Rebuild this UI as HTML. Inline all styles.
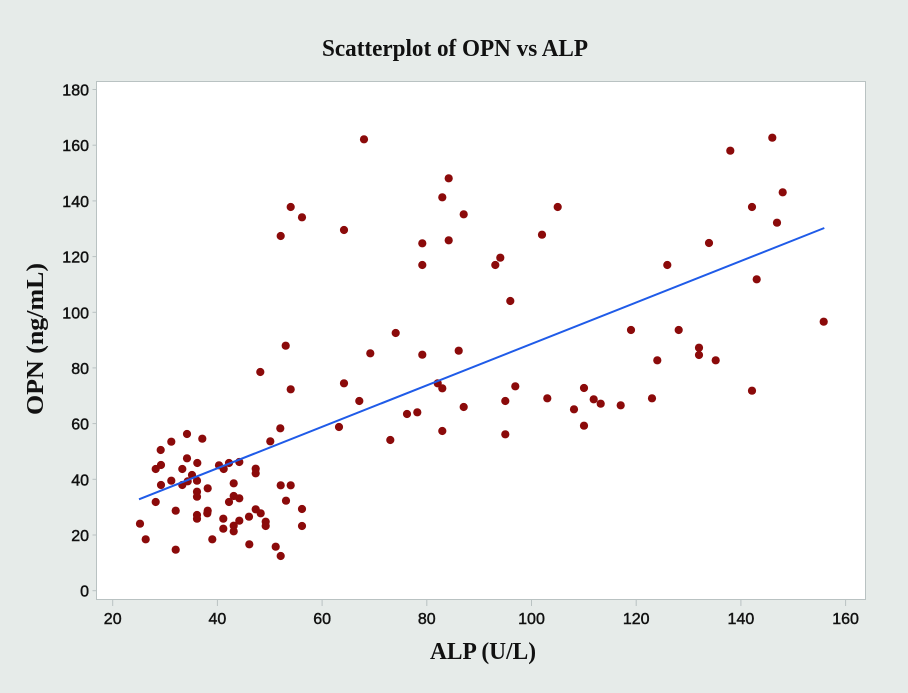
<!DOCTYPE html>
<html>
<head>
<meta charset="utf-8">
<style>
html,body{margin:0;padding:0;background:#e6ebe9;}
svg{display:block;}
</style>
</head>
<body>
<svg width="908" height="693" viewBox="0 0 908 693" xmlns="http://www.w3.org/2000/svg">
<rect x="0" y="0" width="908" height="693" fill="#e6ebe9"/>
<text x="455" y="56" text-anchor="middle" font-family="Liberation Serif, serif" font-weight="bold" font-size="24" textLength="266" lengthAdjust="spacingAndGlyphs" fill="#111">Scatterplot of OPN vs ALP</text>
<rect x="96.5" y="81.5" width="769" height="518" fill="#ffffff" stroke="#b9c2c2" stroke-width="1"/>
<g stroke="#b9c2c2" stroke-width="1">
<line x1="92.5" y1="590.7" x2="96.5" y2="590.7"/>
<line x1="92.5" y1="535.0" x2="96.5" y2="535.0"/>
<line x1="92.5" y1="479.3" x2="96.5" y2="479.3"/>
<line x1="92.5" y1="423.6" x2="96.5" y2="423.6"/>
<line x1="92.5" y1="367.9" x2="96.5" y2="367.9"/>
<line x1="92.5" y1="312.3" x2="96.5" y2="312.3"/>
<line x1="92.5" y1="256.6" x2="96.5" y2="256.6"/>
<line x1="92.5" y1="200.9" x2="96.5" y2="200.9"/>
<line x1="92.5" y1="145.2" x2="96.5" y2="145.2"/>
<line x1="92.5" y1="89.5" x2="96.5" y2="89.5"/>
<line x1="112.7" y1="599.5" x2="112.7" y2="606"/>
<line x1="217.4" y1="599.5" x2="217.4" y2="606"/>
<line x1="322.1" y1="599.5" x2="322.1" y2="606"/>
<line x1="426.8" y1="599.5" x2="426.8" y2="606"/>
<line x1="531.5" y1="599.5" x2="531.5" y2="606"/>
<line x1="636.2" y1="599.5" x2="636.2" y2="606"/>
<line x1="740.9" y1="599.5" x2="740.9" y2="606"/>
<line x1="845.6" y1="599.5" x2="845.6" y2="606"/>
</g>
<g font-family="Liberation Sans, sans-serif" font-size="16" fill="#111" stroke="#111" stroke-width="0.45" text-anchor="end">
<text x="89" y="596.7">0</text>
<text x="89" y="541.0">20</text>
<text x="89" y="485.3">40</text>
<text x="89" y="429.6">60</text>
<text x="89" y="373.9">80</text>
<text x="89" y="318.3">100</text>
<text x="89" y="262.6">120</text>
<text x="89" y="206.9">140</text>
<text x="89" y="151.2">160</text>
<text x="89" y="95.5">180</text>
</g>
<g font-family="Liberation Sans, sans-serif" font-size="16" fill="#111" stroke="#111" stroke-width="0.45" text-anchor="middle">
<text x="112.7" y="624">20</text>
<text x="217.4" y="624">40</text>
<text x="322.1" y="624">60</text>
<text x="426.8" y="624">80</text>
<text x="531.5" y="624">100</text>
<text x="636.2" y="624">120</text>
<text x="740.9" y="624">140</text>
<text x="845.6" y="624">160</text>
</g>
<text x="483" y="659" text-anchor="middle" font-family="Liberation Serif, serif" font-weight="bold" font-size="24" textLength="106" lengthAdjust="spacingAndGlyphs" fill="#111">ALP (U/L)</text>
<text transform="translate(43,339) rotate(-90)" x="0" y="0" text-anchor="middle" font-family="Liberation Serif, serif" font-weight="bold" font-size="24" textLength="152" lengthAdjust="spacingAndGlyphs" fill="#111">OPN (ng/mL)</text>
<g fill="#8b0a0a">
<circle cx="280.3" cy="428.3" r="4.1"/>
<circle cx="187" cy="434" r="4.1"/>
<circle cx="202.3" cy="438.7" r="4.1"/>
<circle cx="171.3" cy="441.7" r="4.1"/>
<circle cx="270.3" cy="441.3" r="4.1"/>
<circle cx="160.7" cy="450" r="4.1"/>
<circle cx="187" cy="458.3" r="4.1"/>
<circle cx="161" cy="465" r="4.1"/>
<circle cx="155.7" cy="469" r="4.1"/>
<circle cx="197.3" cy="463" r="4.1"/>
<circle cx="182.3" cy="469" r="4.1"/>
<circle cx="219" cy="465.3" r="4.1"/>
<circle cx="223.7" cy="469" r="4.1"/>
<circle cx="229" cy="463" r="4.1"/>
<circle cx="239.3" cy="462" r="4.1"/>
<circle cx="255.7" cy="468.7" r="4.1"/>
<circle cx="255.7" cy="473.3" r="4.1"/>
<circle cx="192" cy="475" r="4.1"/>
<circle cx="197" cy="480.7" r="4.1"/>
<circle cx="187.7" cy="481.3" r="4.1"/>
<circle cx="182.3" cy="485" r="4.1"/>
<circle cx="171.3" cy="480.7" r="4.1"/>
<circle cx="161" cy="485" r="4.1"/>
<circle cx="233.7" cy="483.3" r="4.1"/>
<circle cx="207.7" cy="488.3" r="4.1"/>
<circle cx="197" cy="491.7" r="4.1"/>
<circle cx="197" cy="496.7" r="4.1"/>
<circle cx="280.7" cy="485.3" r="4.1"/>
<circle cx="290.7" cy="485.3" r="4.1"/>
<circle cx="155.7" cy="502" r="4.1"/>
<circle cx="233.7" cy="496" r="4.1"/>
<circle cx="229" cy="502" r="4.1"/>
<circle cx="239.3" cy="498.3" r="4.1"/>
<circle cx="286" cy="500.7" r="4.1"/>
<circle cx="175.7" cy="510.7" r="4.1"/>
<circle cx="207.7" cy="510.7" r="4.1"/>
<circle cx="207.3" cy="513.3" r="4.1"/>
<circle cx="197" cy="515" r="4.1"/>
<circle cx="197" cy="518.7" r="4.1"/>
<circle cx="255.7" cy="509.3" r="4.1"/>
<circle cx="260.7" cy="513.3" r="4.1"/>
<circle cx="302" cy="509" r="4.1"/>
<circle cx="140" cy="523.7" r="4.1"/>
<circle cx="223.3" cy="518.7" r="4.1"/>
<circle cx="249" cy="516.7" r="4.1"/>
<circle cx="239.3" cy="520.7" r="4.1"/>
<circle cx="233.7" cy="525.7" r="4.1"/>
<circle cx="265.7" cy="521.7" r="4.1"/>
<circle cx="265.7" cy="526" r="4.1"/>
<circle cx="302" cy="526" r="4.1"/>
<circle cx="223.3" cy="528.7" r="4.1"/>
<circle cx="233.7" cy="531.3" r="4.1"/>
<circle cx="145.7" cy="539.3" r="4.1"/>
<circle cx="212.3" cy="539.3" r="4.1"/>
<circle cx="175.7" cy="549.7" r="4.1"/>
<circle cx="249.3" cy="544.3" r="4.1"/>
<circle cx="275.7" cy="546.7" r="4.1"/>
<circle cx="280.7" cy="556" r="4.1"/>
<circle cx="364" cy="139.3" r="4.1"/>
<circle cx="448.7" cy="178.3" r="4.1"/>
<circle cx="442.3" cy="197.3" r="4.1"/>
<circle cx="463.7" cy="214.3" r="4.1"/>
<circle cx="290.7" cy="207" r="4.1"/>
<circle cx="302" cy="217.3" r="4.1"/>
<circle cx="280.7" cy="236" r="4.1"/>
<circle cx="344" cy="230" r="4.1"/>
<circle cx="422.3" cy="243.3" r="4.1"/>
<circle cx="448.7" cy="240.3" r="4.1"/>
<circle cx="422.3" cy="265" r="4.1"/>
<circle cx="500.3" cy="257.7" r="4.1"/>
<circle cx="495.3" cy="265" r="4.1"/>
<circle cx="395.7" cy="333" r="4.1"/>
<circle cx="285.7" cy="345.7" r="4.1"/>
<circle cx="370.3" cy="353.3" r="4.1"/>
<circle cx="422.3" cy="354.7" r="4.1"/>
<circle cx="458.7" cy="350.7" r="4.1"/>
<circle cx="260.3" cy="372" r="4.1"/>
<circle cx="344" cy="383.3" r="4.1"/>
<circle cx="290.7" cy="389.3" r="4.1"/>
<circle cx="437.7" cy="383.3" r="4.1"/>
<circle cx="442.3" cy="388.3" r="4.1"/>
<circle cx="359.3" cy="401" r="4.1"/>
<circle cx="463.7" cy="407" r="4.1"/>
<circle cx="407" cy="414" r="4.1"/>
<circle cx="417.3" cy="412.3" r="4.1"/>
<circle cx="339" cy="427" r="4.1"/>
<circle cx="390.3" cy="440" r="4.1"/>
<circle cx="442.3" cy="431" r="4.1"/>
<circle cx="772.3" cy="137.7" r="4.1"/>
<circle cx="730.3" cy="150.7" r="4.1"/>
<circle cx="782.7" cy="192.3" r="4.1"/>
<circle cx="752" cy="207" r="4.1"/>
<circle cx="777" cy="222.7" r="4.1"/>
<circle cx="557.7" cy="207" r="4.1"/>
<circle cx="542" cy="234.7" r="4.1"/>
<circle cx="709" cy="243" r="4.1"/>
<circle cx="667.3" cy="265" r="4.1"/>
<circle cx="510.3" cy="301" r="4.1"/>
<circle cx="756.7" cy="279.3" r="4.1"/>
<circle cx="823.7" cy="321.7" r="4.1"/>
<circle cx="631" cy="330" r="4.1"/>
<circle cx="678.7" cy="330" r="4.1"/>
<circle cx="699" cy="347.7" r="4.1"/>
<circle cx="699" cy="355" r="4.1"/>
<circle cx="657.3" cy="360.3" r="4.1"/>
<circle cx="715.7" cy="360.3" r="4.1"/>
<circle cx="515.3" cy="386.3" r="4.1"/>
<circle cx="505.3" cy="401" r="4.1"/>
<circle cx="547.3" cy="398.3" r="4.1"/>
<circle cx="584" cy="388" r="4.1"/>
<circle cx="593.7" cy="399.3" r="4.1"/>
<circle cx="600.7" cy="403.7" r="4.1"/>
<circle cx="574" cy="409.3" r="4.1"/>
<circle cx="620.7" cy="405.3" r="4.1"/>
<circle cx="652" cy="398.3" r="4.1"/>
<circle cx="752" cy="390.7" r="4.1"/>
<circle cx="584" cy="425.7" r="4.1"/>
<circle cx="505.3" cy="434.3" r="4.1"/>
</g>
<line x1="139" y1="499.3" x2="824.3" y2="228" stroke="#1f5be8" stroke-width="2"/>
</svg>
</body>
</html>
